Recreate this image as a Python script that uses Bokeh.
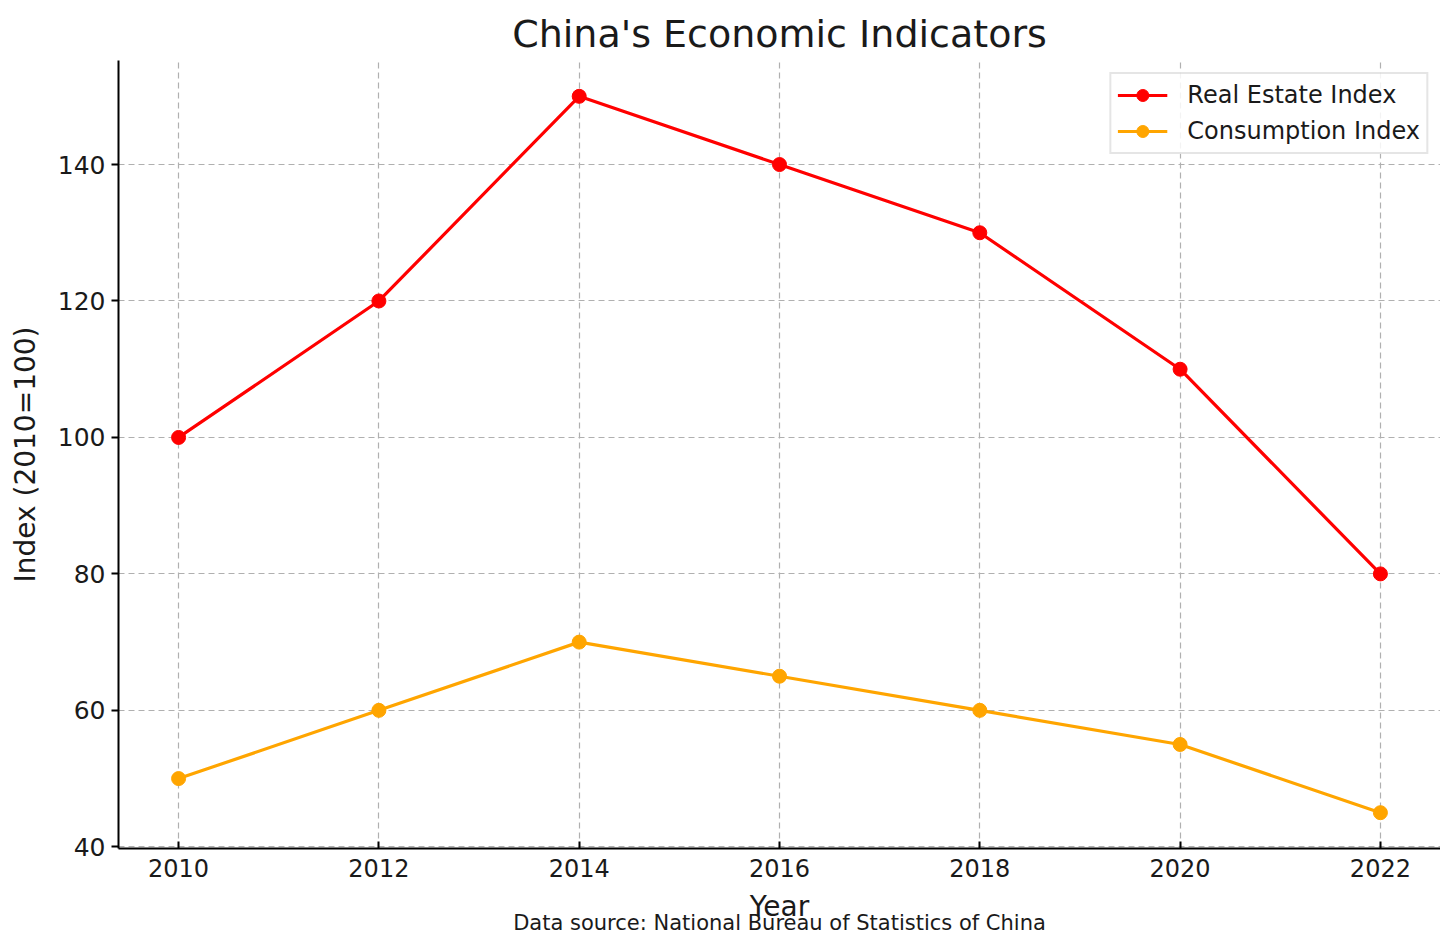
from bokeh.plotting import figure
from bokeh.models import Range1d, FixedTicker, Legend, LegendItem, Title
from bokeh.embed import file_html
from bokeh.resources import INLINE

years = [2010, 2012, 2014, 2016, 2018, 2020, 2022]
real_estate = [100, 120, 150, 140, 130, 110, 80]
consumption = [50, 60, 70, 65, 60, 55, 45]
y_ticks = [40, 60, 80, 100, 120, 140]

FONT = "DejaVu Sans"
TXT = "#1a1a1a"
Y0, Y1 = 39.75, 155.25

p = figure(width=1440, height=940, output_backend="svg", toolbar_location=None,
           x_range=Range1d(2009.4, 2022.6), y_range=Range1d(Y0, Y1),
           min_border_left=118, min_border_right=0, min_border_top=60, min_border_bottom=92)

p.title.text = "China's Economic Indicators"
p.title.align = "center"
p.title.text_font = FONT
p.title.text_font_size = "38px"
p.title.text_font_style = "normal"
p.title.text_color = TXT
p.title.standoff = 10

p.outline_line_color = None
p.background_fill_color = "white"

p.xaxis.ticker = FixedTicker(ticks=years)
p.yaxis.ticker = FixedTicker(ticks=y_ticks)
p.xaxis.axis_label = "Year"
p.yaxis.axis_label = "Index (2010=100)"
for ax in (p.xaxis, p.yaxis):
    ax.axis_label_text_font = FONT
    ax.axis_label_text_font_size = "28px"
    ax.axis_label_text_font_style = "normal"
    ax.axis_label_text_color = TXT
    ax.major_label_text_font = FONT
    ax.major_label_text_font_size = "24px"
    ax.major_label_text_color = TXT
    ax.axis_line_width = 2
    ax.axis_line_color = "black"
    ax.major_tick_line_width = 2
    ax.major_tick_line_color = "black"
    ax.minor_tick_line_color = None
p.xaxis.major_tick_in = 7
p.xaxis.major_tick_out = 0
p.xaxis.major_label_standoff = 10
p.xaxis.axis_label_standoff = 10
p.yaxis.major_tick_in = 0
p.yaxis.major_tick_out = 7
p.yaxis.major_label_standoff = 6
p.yaxis.axis_label_standoff = 13
p.yaxis.major_label_text_font_size = "25px"

for g in (p.xgrid, p.ygrid):
    g.grid_line_color = "#b0b0b0"
    g.grid_line_dash = "6 4"
    g.grid_line_width = 1.2

r1 = p.line(years, real_estate, line_color="#ff0000", line_width=3.2)
s1 = p.scatter(years, real_estate, size=14, fill_color="#ff0000", line_color="#ff0000")
r2 = p.line(years, consumption, line_color="#ffa500", line_width=3.2)
s2 = p.scatter(years, consumption, size=14, fill_color="#ffa500", line_color="#ffa500")

legend = Legend(items=[LegendItem(label="Real Estate Index", renderers=[r1, s1]),
                       LegendItem(label="Consumption Index", renderers=[r2, s2])],
                location="top_right", margin=12, padding=6, spacing=6,
                glyph_width=50, glyph_height=30, label_standoff=20,
                label_text_font=FONT, label_text_font_size="24px", label_text_color=TXT,
                border_line_color="#cccccc", border_line_width=2,
                background_fill_color="white", background_fill_alpha=0.85)
p.add_layout(legend)

src = Title(text="Data source: National Bureau of Statistics of China", align="center",
            vertical_align="top",
            text_font=FONT, text_font_size="21px", text_font_style="normal",
            text_color=TXT, standoff=-30)
p.add_layout(src, "below")

open("out.html", "w").write(file_html(p, INLINE))
